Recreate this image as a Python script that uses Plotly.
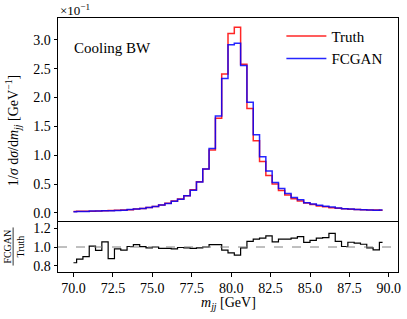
import plotly.graph_objects as go

# bin centres m_jj [GeV]
mjj = [70.0 + 0.4 * i for i in range(50)]

# normalised distributions, in units of 1e-1 GeV^-1
truth_e1 = [0.025, 0.027, 0.029, 0.031, 0.034, 0.037, 0.041, 0.045, 0.050, 0.057,
            0.066, 0.078, 0.095, 0.112, 0.138, 0.168, 0.205, 0.240, 0.300, 0.400,
            0.540, 0.760, 1.090, 1.640, 2.410, 3.110, 3.220, 2.580, 1.810, 1.250,
            0.890, 0.650, 0.500, 0.390, 0.310, 0.245, 0.205, 0.170, 0.145, 0.122,
            0.105, 0.090, 0.080, 0.072, 0.065, 0.059, 0.054, 0.052, 0.050, 0.048]
fcgan_e1 = [0.0208, 0.0235, 0.0260, 0.0313, 0.0328, 0.0390, 0.0359, 0.0441, 0.0483, 0.0573,
            0.0677, 0.0784, 0.0941, 0.1120, 0.1359, 0.1655, 0.2009, 0.2388, 0.2970, 0.3940,
            0.5346, 0.7600, 1.1173, 1.6810, 2.3305, 2.9172, 2.9431, 2.5542, 1.9186, 1.3563,
            0.9746, 0.7280, 0.5275, 0.4232, 0.3364, 0.2683, 0.2276, 0.1785, 0.1552, 0.1336,
            0.1155, 0.1031, 0.0848, 0.0724, 0.0683, 0.0614, 0.0556, 0.0515, 0.0485, 0.0504]

ratio = [f / t for f, t in zip(fcgan_e1, truth_e1)]

xticks = [70.0, 72.5, 75.0, 77.5, 80.0, 82.5, 85.0, 87.5, 90.0]
yticks_main = [0.0, 0.5, 1.0, 1.5, 2.0, 2.5, 3.0]
yticks_ratio = [0.8, 1.0, 1.2]

FONT = "Liberation Serif"

fig = go.Figure()
fig.add_trace(go.Scatter(x=mjj, y=truth_e1, mode="lines", line=dict(shape="hvh", color="rgba(255,0,0,0.85)", width=1.5),
                         name="Truth", xaxis="x", yaxis="y"))
fig.add_trace(go.Scatter(x=mjj, y=fcgan_e1, mode="lines", line=dict(shape="hvh", color="rgba(0,0,255,0.85)", width=1.5),
                         name="FCGAN", xaxis="x", yaxis="y"))
fig.add_trace(go.Scatter(x=mjj, y=ratio, mode="lines", line=dict(shape="hvh", color="black", width=1.2),
                         showlegend=False, xaxis="x2", yaxis="y2"))

split = 51 / 254
tickfont = dict(family=FONT, size=14, color="black")
base = dict(showline=True, linecolor="black", linewidth=1, showgrid=False, zeroline=False, automargin=False,
            tickcolor="black", ticklen=3.5, tickfont=tickfont)

fig.update_layout(
    template="none",
    width=407, height=319,
    margin=dict(l=58, r=9, t=18, b=47, autoexpand=False),
    plot_bgcolor="white", paper_bgcolor="white",
    font=dict(family=FONT, size=14, color="black"),
    xaxis=dict(domain=[0, 1], range=[69.02, 90.58], anchor="y", showticklabels=False, mirror=True,
               ticks="", tickvals=xticks, **base),
    yaxis=dict(domain=[split, 1], range=[-0.14, 3.38], anchor="x", tickvals=yticks_main, mirror=True,
               ticks="outside", ticktext=[f"{v:.1f}" for v in yticks_main], **base),
    xaxis2=dict(domain=[0, 1], range=[69.02, 90.58], anchor="y2", tickvals=xticks, mirror=False,
                ticks="outside", ticktext=[f"{v:.1f}" for v in xticks], **base),
    yaxis2=dict(domain=[0, split], range=[0.733, 1.278], anchor="x2", tickvals=yticks_ratio, mirror=True,
                ticks="outside", ticktext=[f"{v:.1f}" for v in yticks_ratio], **base),
    legend=dict(x=0.657, y=0.993, xanchor="left", yanchor="top", bgcolor="rgba(0,0,0,0)",
                font=dict(family=FONT, size=15), tracegroupgap=0, itemwidth=40),
    showlegend=True,
)

fig.add_shape(type="line", xref="x2", yref="y2", x0=69.02, x1=90.58, y0=1.0, y1=1.0,
              line=dict(color="gray", width=1, dash="dash"))
# fraction bar for the ratio label
fig.add_shape(type="line", xref="paper", yref="paper", x0=-0.132, x1=-0.132, y0=split / 2 - 0.075, y1=split / 2 + 0.075,
              line=dict(color="black", width=0.8))

fig.add_annotation(text="Cooling BW", xref="paper", yref="paper", x=0.042, y=0.88, xanchor="left", yanchor="middle",
                   showarrow=False, font=dict(family=FONT, size=15))
fig.add_annotation(text="×10<sup>−1</sup>", xref="paper", yref="paper", x=0.0, y=1.0, xanchor="left", yanchor="bottom",
                   yshift=-2, showarrow=False, font=dict(family=FONT, size=13))
fig.add_annotation(text="<i>m</i><sub><i>jj</i></sub> [GeV]", xref="paper", yref="paper", x=0.5, y=-0.125,
                   xanchor="center", yanchor="middle", showarrow=False, font=dict(family=FONT, size=14))
fig.add_annotation(text="1/<i>σ</i> d<i>σ</i>/d<i>m</i><sub><i>jj</i></sub> [GeV<sup>−1</sup>]", xref="paper", yref="paper",
                   x=-0.132, y=0.555, xanchor="center", yanchor="middle", textangle=-90,
                   showarrow=False, font=dict(family=FONT, size=14))
fig.add_annotation(text="FCGAN<br>Truth", xref="paper", yref="paper", x=-0.132, y=split / 2,
                   xanchor="center", yanchor="middle", textangle=-90, showarrow=False,
                   font=dict(family=FONT, size=10))

fig.write_html("out.html", config={"displayModeBar": False},
               post_script="document.body.style.margin='0';document.body.style.padding='0';")
